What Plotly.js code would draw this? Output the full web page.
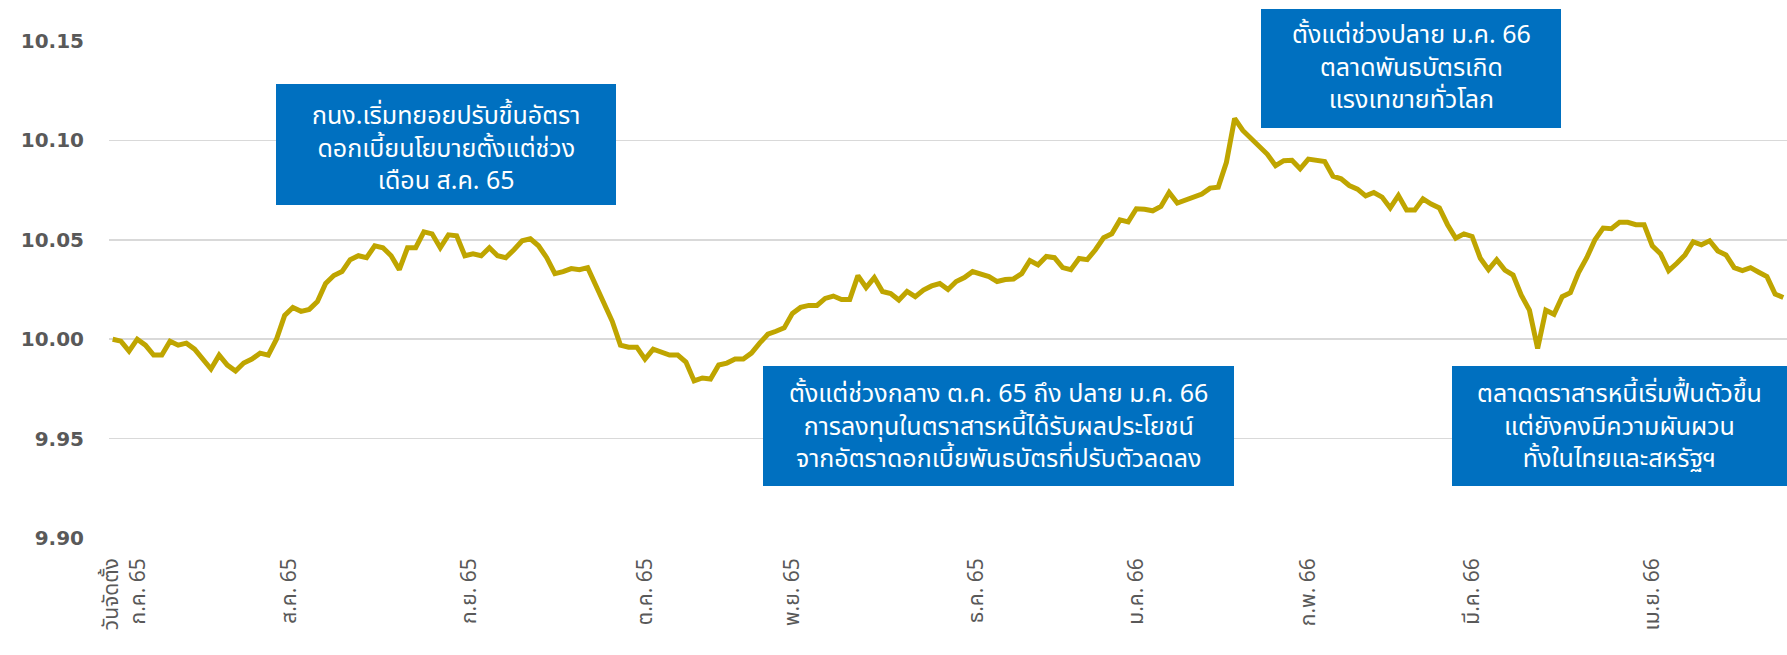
<!DOCTYPE html>
<html>
<head>
<meta charset="utf-8">
<script src="https://cdn.plot.ly/plotly-3.0.1.min.js"></script>
<style>
html,body{margin:0;padding:0;background:#fff;}
#chart{width:1787px;height:655px;}
</style>
</head>
<body>
<div id="chart"></div>
<script>
const navValues = [
  10.000, 9.999, 9.994, 10.000, 9.997, 9.992, 9.992, 9.999, 9.997, 9.998,
  9.995, 9.990, 9.985, 9.992, 9.987, 9.984, 9.988, 9.990, 9.993, 9.992,
  10.000, 10.012, 10.016, 10.014, 10.015, 10.019, 10.028, 10.032, 10.034, 10.040,
  10.042, 10.041, 10.047, 10.046, 10.042, 10.035, 10.046, 10.046, 10.054, 10.053,
  10.046, 10.0525, 10.052, 10.042, 10.043, 10.042, 10.046, 10.042, 10.041, 10.045,
  10.0495, 10.0505, 10.047, 10.041, 10.033, 10.034, 10.0355, 10.035, 10.036, 10.027,
  10.018, 10.009, 9.997, 9.996, 9.996, 9.990, 9.995, 9.9935, 9.992, 9.992,
  9.9885, 9.979, 9.9805, 9.980, 9.987, 9.988, 9.990, 9.990, 9.993, 9.998,
  10.0025, 10.004, 10.0057, 10.013, 10.016, 10.017, 10.017, 10.0205, 10.0217, 10.020,
  10.020, 10.032, 10.026, 10.031, 10.024, 10.023, 10.0197, 10.024, 10.0214, 10.0247,
  10.0268, 10.028, 10.025, 10.029, 10.031, 10.034, 10.0327, 10.0315, 10.029, 10.030,
  10.0303, 10.033, 10.0396, 10.0374, 10.0416, 10.041, 10.036, 10.035, 10.0406, 10.040,
  10.045, 10.051, 10.053, 10.060, 10.059, 10.0656, 10.0654, 10.0646, 10.0668, 10.0738,
  10.0685, 10.070, 10.0715, 10.073, 10.076, 10.0765, 10.089, 10.111, 10.105, 10.1007,
  10.097, 10.093, 10.0873, 10.0898, 10.090, 10.0857, 10.0906, 10.0898, 10.0894, 10.082,
  10.0807, 10.0773, 10.0755, 10.0721, 10.0738, 10.0715, 10.066, 10.0723, 10.065, 10.065,
  10.0706, 10.068, 10.066, 10.0576, 10.0508, 10.053, 10.0517, 10.0407, 10.035, 10.040,
  10.0348, 10.0323, 10.0222, 10.0146, 9.9953, 10.0146, 10.0125, 10.0214, 10.0234, 10.0335,
  10.041, 10.050, 10.0559, 10.0556, 10.0588, 10.0588, 10.0576, 10.0576, 10.047, 10.043,
  10.0345, 10.0382, 10.0424, 10.049, 10.0475, 10.0495, 10.0444, 10.0424, 10.036, 10.0345,
  10.036, 10.0337, 10.0315, 10.0227, 10.021
];
const obsIndex = navValues.map((_, i) => i);

// Month tick labels and the observation they sit on
const monthLabels = ["วันจัดตั้ง<br>ก.ค. 65", "ส.ค. 65", "ก.ย. 65", "ต.ค. 65", "พ.ย. 65",
                     "ธ.ค. 65", "ม.ค. 66", "ก.พ. 66", "มี.ค. 66", "เม.ย. 66"];
const monthTickAt = [1.5, 21.5, 43.5, 65, 83, 105.5, 125, 146, 166, 188];

const yTickVals = [9.90, 9.95, 10.00, 10.05, 10.10, 10.15];
const yTickText = ["9.90", "9.95", "10.00", "10.05", "10.10", "10.15"];

// Callout texts
const noteTexts = [
  ["กนง.เริ่มทยอยปรับขึ้นอัตรา", "ดอกเบี้ยนโยบายตั้งแต่ช่วง", "เดือน ส.ค. 65"],
  ["ตั้งแต่ช่วงปลาย ม.ค. 66", "ตลาดพันธบัตรเกิด", "แรงเทขายทั่วโลก"],
  ["ตั้งแต่ช่วงกลาง ต.ค. 65 ถึง ปลาย ม.ค. 66", "การลงทุนในตราสารหนี้ได้รับผลประโยชน์", "จากอัตราดอกเบี้ยพันธบัตรที่ปรับตัวลดลง"],
  ["ตลาดตราสารหนี้เริ่มฟื้นตัวขึ้น", "แต่ยังคงมีความผันผวน", "ทั้งในไทยและสหรัฐฯ"]
];

// ---- layout geometry (pixels) ----
const W = 1787, H = 655;
const M = {l: 109, r: 0, t: 40, b: 116};
const PW = W - M.l - M.r, PH = H - M.t - M.b;
const px2x = p => (p - M.l) / PW;
const px2y = p => (H - M.b - p) / PH;

const boxes = [
  {x0: 276, x1: 616, y0: 84, y1: 205, mid: 148},
  {x0: 1261, x1: 1561, y0: 9, y1: 128, mid: 67},
  {x0: 763, x1: 1234, y0: 366, y1: 486, mid: 426},
  {x0: 1452, x1: 1790, y0: 366, y1: 486, mid: 426}
];

const THAI = '"Noto Sans Thai", "Noto Sans Thai Looped", "Noto Sans", sans-serif';
const shapes = [], annotations = [];
boxes.forEach((b, k) => {
  shapes.push({type: 'rect', xref: 'paper', yref: 'paper',
    x0: px2x(b.x0), x1: px2x(b.x1), y0: px2y(b.y1), y1: px2y(b.y0),
    fillcolor: '#0070C0', line: {width: 0}, layer: 'above'});
  annotations.push({xref: 'paper', yref: 'paper',
    x: px2x((b.x0 + Math.min(b.x1, W)) / 2), y: px2y(b.mid),
    xanchor: 'center', yanchor: 'middle', align: 'center', showarrow: false,
    text: noteTexts[k].join('<br>'),
    font: {family: THAI, size: 25, color: '#ffffff'}});
});

const trace = {
  x: obsIndex, y: navValues, type: 'scatter', mode: 'lines',
  line: {color: '#BFA500', width: 5, shape: 'linear'},
  hoverinfo: 'skip'
};

const layout = {
  width: W, height: H,
  margin: M,
  paper_bgcolor: '#ffffff', plot_bgcolor: '#ffffff',
  showlegend: false,
  xaxis: {
    range: [-0.45, navValues.length - 1 + 0.45],
    tickmode: 'array', tickvals: monthTickAt, ticktext: monthLabels,
    tickangle: -90, showgrid: false, zeroline: false, showline: false,
    ticks: '', ticklabelstandoff: 14,
    tickfont: {family: THAI, size: 21, color: '#595959'}
  },
  yaxis: {
    range: [9.8995, 10.1505],
    tickmode: 'array', tickvals: yTickVals, ticktext: yTickText,
    showgrid: true, gridcolor: '#D9D9D9', gridwidth: 1.6,
    zeroline: false, showline: false, ticks: '', ticklabelstandoff: 24,
    tickfont: {family: '"DejaVu Sans", sans-serif', size: 20, color: '#595959', weight: 'bold'}
  },
  shapes: shapes,
  annotations: annotations
};

Plotly.newPlot('chart', [trace], layout, {displayModeBar: false, staticPlot: true});
</script>
</body>
</html>
